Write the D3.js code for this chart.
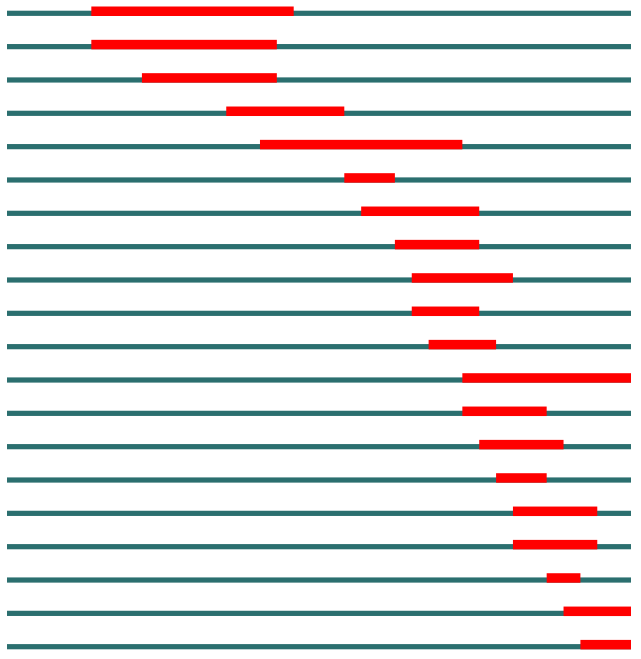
<!DOCTYPE html>
<html>
<head>
<meta charset="utf-8">
<script src="https://cdn.jsdelivr.net/npm/d3@7"></script>
<style>
  html, body { margin: 0; padding: 0; background: #ffffff; }
  svg { display: block; }
</style>
</head>
<body>
<svg id="chart" width="641" height="659"></svg>
<script>
// Data
const tasks = ["Task 1","Task 2","Task 3","Task 4","Task 5","Task 6","Task 7","Task 8","Task 9","Task 10",
               "Task 11","Task 12","Task 13","Task 14","Task 15","Task 16","Task 17","Task 18","Task 19","Task 20"];
const startTimes = [5, 5, 8, 13, 15, 20, 21, 23, 24, 24, 25, 27, 27, 28, 29, 30, 30, 32, 33, 34];
const endTimes   = [17, 16, 16, 20, 27, 23, 28, 28, 30, 28, 29, 37, 32, 33, 32, 35, 35, 34, 37, 37];
const timeDomain = [0, 37];

const rows = tasks.map((t, i) => ({ task: t, start: startTimes[i], end: endTimes[i] }));

const svg = d3.select("#chart");
const x = d3.scaleLinear().domain(timeDomain).range([7, 631]);
const y = d3.scalePoint().domain(tasks).range([13.3, 646.7]);

// background track lines
svg.append("g").selectAll("rect")
  .data(rows).join("rect")
  .attr("x", x(timeDomain[0]))
  .attr("width", x(timeDomain[1]) - x(timeDomain[0]))
  .attr("y", d => y(d.task) - 2.6)
  .attr("height", 5.2)
  .attr("fill", "#2b6f6f");

// task bars
svg.append("g").selectAll("rect")
  .data(rows).join("rect")
  .attr("x", d => x(d.start))
  .attr("width", d => x(d.end) - x(d.start))
  .attr("y", d => y(d.task) - 6.8)
  .attr("height", 9.5)
  .attr("fill", "#ff0000");
</script>
</body>
</html>
